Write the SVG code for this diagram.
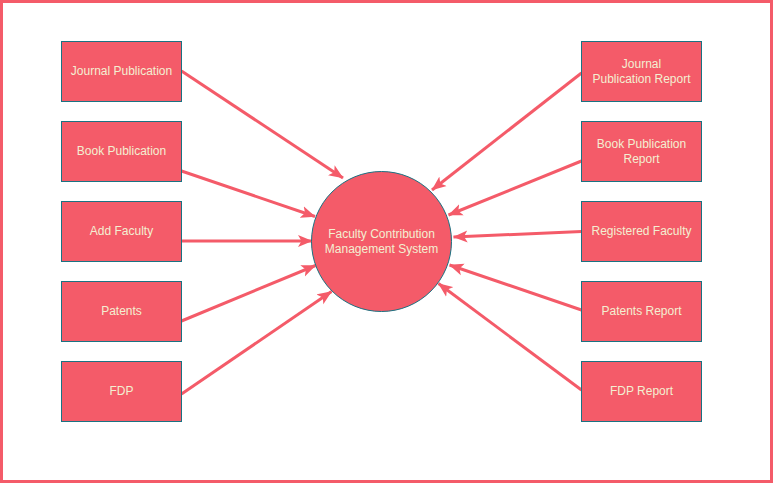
<svg xmlns="http://www.w3.org/2000/svg" width="773" height="483" viewBox="0 0 773 483">
<defs>
<style>
.box{fill:#F45B69;stroke:#1A7282;stroke-width:1}
.lbl{font-family:"Liberation Sans",Arial,sans-serif;font-size:12px;fill:#F3EFD2;text-anchor:middle}
.edge{stroke:#F45B69;stroke-width:3;fill:none;marker-end:url(#arr)}
</style>
<marker id="arr" markerUnits="userSpaceOnUse" markerWidth="16" markerHeight="13" refX="14" refY="6.5" orient="auto">
<path d="M0,0.5 L14.5,6.5 L0,12.5 L3.5,6.5 Z" fill="#F45B69"/>
</marker>
</defs>
<rect x="1.5" y="1.5" width="770" height="480" fill="#FFFFFF" stroke="#F45B69" stroke-width="3"/>
<g id="connectors">
<line class="edge" x1="181.5" y1="71" x2="343" y2="178"/>
<line class="edge" x1="181.5" y1="171" x2="315" y2="216.5"/>
<line class="edge" x1="181.5" y1="241" x2="312" y2="241"/>
<line class="edge" x1="181.5" y1="321" x2="315.5" y2="265.5"/>
<line class="edge" x1="181.5" y1="394" x2="331.5" y2="291.5"/>
<line class="edge" x1="581.5" y1="73" x2="432" y2="190"/>
<line class="edge" x1="581.5" y1="161" x2="448.5" y2="215"/>
<line class="edge" x1="581.5" y1="231.5" x2="453.5" y2="237"/>
<line class="edge" x1="581.5" y1="310" x2="449.5" y2="265"/>
<line class="edge" x1="581.5" y1="390" x2="438.5" y2="283.5"/>
</g>
<g id="center">
<circle cx="381.5" cy="241.5" r="70" class="box"/>
<text class="lbl" x="381.5" y="237.5">Faculty Contribution</text>
<text class="lbl" x="381.5" y="252.5">Management System</text>
</g>
<g id="journal-publication"><rect class="box" x="61.5" y="41.5" width="120" height="60"/><text class="lbl" x="121.5" y="74.5">Journal Publication</text></g>
<g id="book-publication"><rect class="box" x="61.5" y="121.5" width="120" height="60"/><text class="lbl" x="121.5" y="154.5">Book Publication</text></g>
<g id="add-faculty"><rect class="box" x="61.5" y="201.5" width="120" height="60"/><text class="lbl" x="121.5" y="234.5">Add Faculty</text></g>
<g id="patents"><rect class="box" x="61.5" y="281.5" width="120" height="60"/><text class="lbl" x="121.5" y="314.5">Patents</text></g>
<g id="fdp"><rect class="box" x="61.5" y="361.5" width="120" height="60"/><text class="lbl" x="121.5" y="394.5">FDP</text></g>
<g id="journal-publication-report"><rect class="box" x="581.5" y="41.5" width="120" height="60"/><text class="lbl" x="641.5" y="67.5">Journal</text><text class="lbl" x="641.5" y="82.5">Publication Report</text></g>
<g id="book-publication-report"><rect class="box" x="581.5" y="121.5" width="120" height="60"/><text class="lbl" x="641.5" y="147.5">Book Publication</text><text class="lbl" x="641.5" y="162.5">Report</text></g>
<g id="registered-faculty"><rect class="box" x="581.5" y="201.5" width="120" height="60"/><text class="lbl" x="641.5" y="234.5">Registered Faculty</text></g>
<g id="patents-report"><rect class="box" x="581.5" y="281.5" width="120" height="60"/><text class="lbl" x="641.5" y="314.5">Patents Report</text></g>
<g id="fdp-report"><rect class="box" x="581.5" y="361.5" width="120" height="60"/><text class="lbl" x="641.5" y="394.5">FDP Report</text></g>
</svg>
